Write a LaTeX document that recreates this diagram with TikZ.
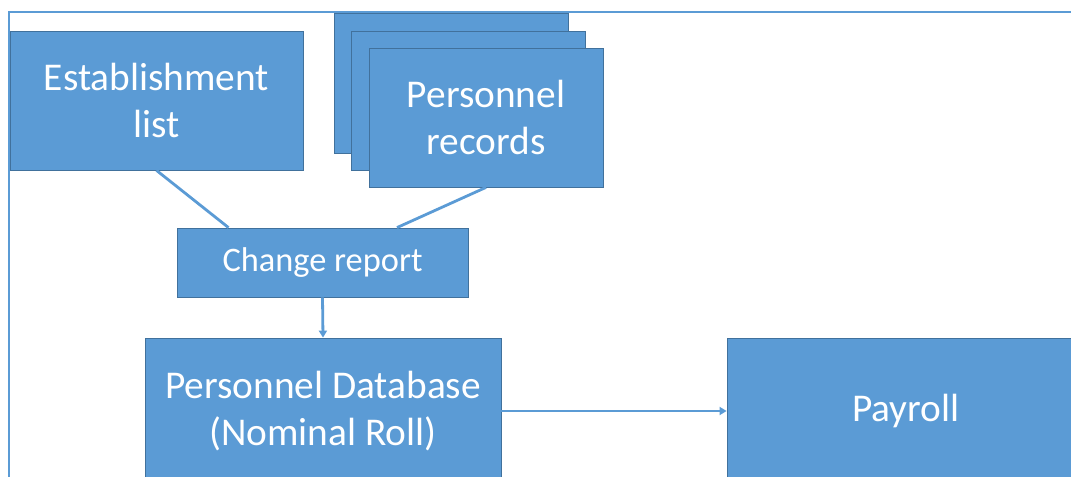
\documentclass[tikz,border=0pt]{standalone}
\usepackage{fontspec}
\setmainfont{Carlito}
\definecolor{boxblue}{HTML}{5B9BD5}
\definecolor{boxedge}{HTML}{41719C}
\usetikzlibrary{arrows.meta}

\begin{document}
\begin{tikzpicture}[x=1bp,y=-1bp,
  every node/.style={font=\fontsize{39.5}{48}\selectfont,text=white,align=center},
  block/.style={draw=boxedge,fill=boxblue,line width=0.8bp,rectangle,inner sep=0pt},
  link/.style={draw=boxblue,line width=2.8bp},
  flow/.style={link,-{Triangle[length=7bp,width=8bp]}}]
\useasboundingbox (0,0) rectangle (1071,477);
\clip (0,0) rectangle (1071,477);
% outer frame
\draw[boxblue,line width=2bp] (1071,12) -- (9,12) -- (9,477);
\node[block,minimum width=293bp,minimum height=139bp] (est) at (156.5,100.5) {Establishment\\list};
\node[block,minimum width=234bp,minimum height=140bp] (rec3) at (451,83) {};
\node[block,minimum width=234bp,minimum height=139bp] (rec2) at (468,100.5) {};
\node[block,minimum width=234bp,minimum height=139bp] (rec) at (486,117.5) {Personnel\\records};
\node[block,minimum width=291bp,minimum height=69bp,font=\fontsize{34.5}{41}\selectfont] (chg) at (322.5,262.5) {Change report};
\node[block,minimum width=356bp,minimum height=146bp] (db) at (323,411) {Personnel Database\\(Nominal Roll)};
\node[block,minimum width=358bp,minimum height=146bp] (pay) at (906,411) {Payroll};
\draw[link] (est.south) -- ([xshift=-94bp]chg.north);
\draw[link] (rec.south) -- ([xshift=74.5bp]chg.north);
\draw[flow] (chg.south) -- (db.north);
\draw[flow] (db.east) -- (pay.west);
\end{tikzpicture}
\end{document}
